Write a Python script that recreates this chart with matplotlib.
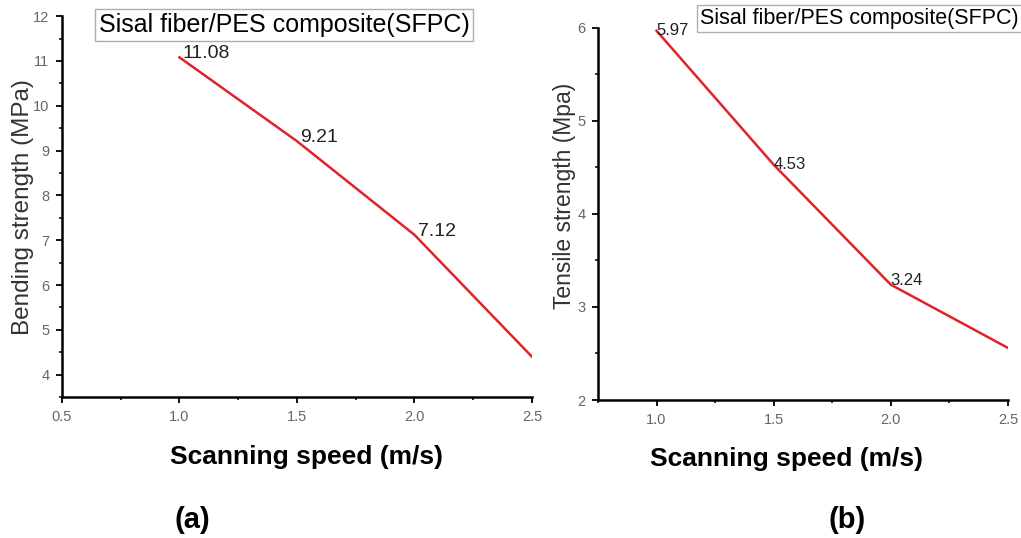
import matplotlib.pyplot as plt
from matplotlib.ticker import MultipleLocator

plt.rcParams['font.family'] = ['Liberation Sans', 'DejaVu Sans']

# data
speed = [1.0, 1.5, 2.0, 2.5]
bending = [11.08, 9.21, 7.12, 4.4]
bending_labels = ['11.08', '9.21', '7.12', None]
tensile = [5.97, 4.53, 3.24, 2.56]
tensile_labels = ['5.97', '4.53', '3.24', None]
legend_text = 'Sisal fiber/PES composite(SFPC)'
line_color = '#e32228'


def style_axis(ax):
    ax.spines['top'].set_visible(False)
    ax.spines['right'].set_visible(False)
    ax.spines['left'].set_linewidth(1.8)
    ax.spines['bottom'].set_linewidth(1.8)
    ax.tick_params(which='major', direction='out', length=4, width=1.3,
                   labelsize=10.5, labelcolor='#666666', pad=5)
    ax.tick_params(which='minor', direction='out', length=2.5, width=1.1)


fig = plt.figure(figsize=(10.21, 5.38), dpi=100)

# panel (a)
ax1 = fig.add_axes([0.0607, 0.262, 0.4603, 0.708])
ax1.plot(speed, bending, color=line_color, lw=1.8)
for x, y, s in zip(speed, bending, bending_labels):
    if s:
        ax1.text(x + 0.015, y + 0.08, s, fontsize=14, ha='left', va='center',
                 color='#222222')
ax1.set_xlim(0.5, 2.5)
ax1.set_ylim(3.5, 12)
ax1.xaxis.set_major_locator(MultipleLocator(0.5))
ax1.xaxis.set_minor_locator(MultipleLocator(0.25))
ax1.yaxis.set_major_locator(MultipleLocator(1))
ax1.yaxis.set_minor_locator(MultipleLocator(0.5))
style_axis(ax1)
ax1.set_ylabel('Bending strength (MPa)', fontsize=17.5, color='#333333')
ax1.yaxis.set_label_coords(-0.06, 0.5)
ax1.set_xlabel('Scanning speed (m/s)', fontsize=19, fontweight='bold', va='top')
ax1.xaxis.set_label_coords(0.521, -0.125)
ax1.plot([], [], alpha=0, label=legend_text)
ax1.legend(loc='upper left', bbox_to_anchor=(0.07, 1.018), fontsize=18,
           handlelength=0, handletextpad=0, fancybox=False, edgecolor='#999999',
           borderpad=0.15, borderaxespad=0)
fig.text(0.188, 0.033, '(a)', fontsize=21, fontweight='bold', ha='center', va='center')

# panel (b)
ax2 = fig.add_axes([0.5857, 0.2565, 0.4015, 0.6915])
ax2.plot(speed, tensile, color=line_color, lw=1.8)
for x, y, s in zip(speed, tensile, tensile_labels):
    if s:
        ax2.text(x, y + (0.05 if s == '3.24' else 0.0), s, fontsize=12,
                 ha='left', va='center', color='#222222')
ax2.set_xlim(0.75, 2.5)
ax2.set_ylim(2, 6)
ax2.set_xticks([1.0, 1.5, 2.0, 2.5])
ax2.xaxis.set_minor_locator(MultipleLocator(0.25))
ax2.yaxis.set_major_locator(MultipleLocator(1))
ax2.yaxis.set_minor_locator(MultipleLocator(0.5))
style_axis(ax2)
ax2.set_ylabel('Tensile strength (Mpa)', fontsize=16.5, color='#333333')
ax2.yaxis.set_label_coords(-0.054, 0.55)
ax2.set_xlabel('Scanning speed (m/s)', fontsize=19, fontweight='bold', va='top')
ax2.xaxis.set_label_coords(0.461, -0.125)
ax2.plot([], [], alpha=0, label=legend_text)
ax2.legend(loc='upper left', bbox_to_anchor=(0.241, 1.062), fontsize=15.5,
           handlelength=0, handletextpad=0, fancybox=False, edgecolor='#999999',
           borderpad=0.15, borderaxespad=0)
fig.text(0.83, 0.033, '(b)', fontsize=21, fontweight='bold', ha='center', va='center')

fig.savefig('out.png', dpi=100)
